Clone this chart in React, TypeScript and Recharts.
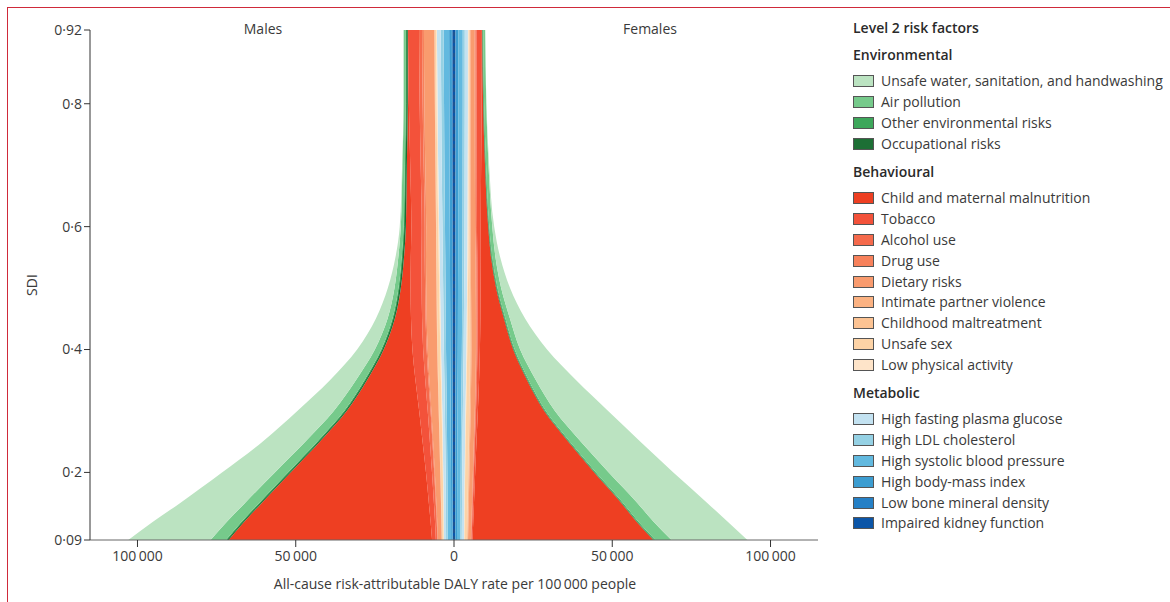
import React from 'react';
import { ComposedChart, Area, XAxis, YAxis, ReferenceLine } from 'recharts';

// SDI levels (y axis)
const SDI = [0.09, 0.12, 0.15, 0.2, 0.25, 0.3, 0.35, 0.4, 0.45, 0.5, 0.55, 0.6, 0.7, 0.8, 0.92];

// Males (DALY rate per 100 000, magnitudes; plotted to the left)
const maleWater = [26000, 23300, 20500, 16700, 13500, 11500, 8200, 5600, 3700, 2100, 900, 350, 100, 50, 20];
const maleAir = [4850, 4650, 4450, 4150, 3770, 3290, 2710, 2030, 1550, 1270, 1090, 910, 780, 700, 700];
const maleOtherEnv = [400, 400, 400, 400, 380, 360, 340, 320, 300, 280, 260, 240, 220, 200, 200];
const maleOccupational = [450, 450, 450, 450, 450, 450, 450, 450, 450, 450, 450, 450, 400, 400, 400];
const maleChild = [64270, 58800, 52860, 42750, 32480, 22900, 15320, 9060, 5120, 3080, 2160, 1720, 1070, 350, 50];
const maleTobacco = [1200, 1400, 1600, 1900, 2300, 2700, 3100, 3400, 3500, 3500, 3400, 3300, 3300, 3400, 3500];
const maleAlcohol = [500, 550, 600, 700, 800, 900, 1000, 1100, 1100, 1100, 1000, 950, 950, 950, 950];
const maleDrug = [150, 160, 180, 200, 230, 260, 300, 330, 350, 380, 400, 450, 500, 550, 600];
const maleDietary = [1200, 1300, 1450, 1700, 2000, 2300, 2700, 3000, 3200, 3200, 3200, 3100, 3200, 3300, 3300];
const maleIpv = [0, 0, 0, 0, 0, 0, 0, 0, 0, 0, 0, 0, 0, 0, 0];
const maleChildhood = [100, 100, 110, 120, 130, 140, 150, 160, 160, 160, 160, 150, 150, 150, 150];
const maleUnsafeSex = [500, 550, 600, 700, 750, 800, 800, 800, 750, 700, 650, 550, 450, 400, 350];
const maleLowPA = [80, 90, 100, 130, 160, 200, 230, 250, 270, 280, 280, 280, 280, 300, 300];
const maleFpg = [700, 720, 740, 760, 790, 820, 860, 900, 940, 980, 1010, 1050, 1120, 1170, 1220];
const maleLdl = [500, 510, 520, 540, 570, 600, 640, 680, 720, 750, 780, 800, 850, 880, 900];
const maleSbp = [1100, 1110, 1120, 1150, 1190, 1230, 1290, 1350, 1390, 1430, 1480, 1530, 1620, 1680, 1740];
const maleBmi = [450, 460, 470, 490, 520, 550, 580, 620, 650, 680, 710, 740, 790, 830, 870];
const maleBone = [100, 100, 100, 100, 100, 100, 110, 110, 110, 120, 120, 120, 130, 140, 150];
const maleKidney = [350, 350, 350, 360, 380, 400, 420, 440, 440, 440, 450, 460, 490, 500, 520];

// Females (plotted to the right)
const femaleWater = [24000, 23400, 22100, 20400, 18800, 16800, 12700, 8500, 4800, 2800, 1500, 600, 200, 50, 10];
const femaleAir = [5100, 4800, 4520, 4040, 3460, 2880, 2300, 1720, 1440, 1160, 1000, 940, 770, 680, 640];
const femaleOtherEnv = [400, 400, 380, 360, 340, 320, 300, 280, 260, 240, 220, 200, 180, 170, 160];
const femaleOccupational = [200, 200, 200, 200, 200, 200, 200, 200, 200, 200, 180, 160, 150, 150, 150];
const femaleChild = [57140, 51520, 46590, 37610, 29000, 20960, 15180, 10510, 7470, 4900, 3240, 2350, 1230, 460, 80];
const femaleTobacco = [300, 330, 360, 420, 500, 600, 700, 800, 900, 1000, 1100, 1200, 1400, 1600, 1750];
const femaleAlcohol = [150, 160, 170, 190, 210, 230, 250, 270, 290, 300, 300, 300, 300, 300, 300];
const femaleDrug = [80, 90, 100, 110, 120, 140, 160, 180, 200, 220, 240, 260, 280, 300, 320];
const femaleDietary = [900, 950, 1000, 1100, 1200, 1300, 1400, 1450, 1500, 1500, 1500, 1450, 1400, 1350, 1300];
const femaleIpv = [250, 260, 270, 280, 290, 300, 300, 300, 280, 260, 240, 220, 200, 180, 160];
const femaleChildhood = [100, 100, 110, 120, 130, 140, 150, 150, 150, 150, 150, 140, 140, 140, 140];
const femaleUnsafeSex = [800, 850, 900, 950, 1000, 1000, 950, 850, 700, 550, 400, 300, 220, 180, 150];
const femaleLowPA = [80, 90, 100, 120, 150, 180, 210, 240, 260, 270, 280, 280, 280, 290, 300];
const femaleFpg = [750, 760, 770, 790, 810, 840, 870, 900, 920, 940, 960, 970, 980, 990, 990];
const femaleLdl = [450, 460, 470, 480, 500, 520, 540, 560, 580, 600, 610, 620, 630, 640, 640];
const femaleSbp = [1050, 1060, 1080, 1110, 1140, 1180, 1230, 1280, 1310, 1340, 1370, 1390, 1400, 1420, 1420];
const femaleBmi = [550, 560, 570, 590, 610, 640, 670, 700, 720, 740, 760, 770, 780, 790, 790];
const femaleBone = [80, 80, 80, 80, 80, 90, 90, 100, 100, 110, 120, 120, 130, 130, 130];
const femaleKidney = [320, 330, 330, 350, 360, 380, 400, 410, 420, 420, 430, 430, 430, 430, 430];

const X_TICKS = [-100000, -50000, 0, 50000, 100000];
const Y_TICKS = [0.09, 0.2, 0.4, 0.6, 0.8, 0.92];

type Factor = { key: string; label: string; color: string; male: number[]; female: number[] };

const ENVIRONMENTAL: Factor[] = [
  { key: 'water', label: 'Unsafe water, sanitation, and handwashing', color: '#bbe3c1', male: maleWater, female: femaleWater },
  { key: 'air', label: 'Air pollution', color: '#76ca8b', male: maleAir, female: femaleAir },
  { key: 'otherEnv', label: 'Other environmental risks', color: '#3da75b', male: maleOtherEnv, female: femaleOtherEnv },
  { key: 'occupational', label: 'Occupational risks', color: '#1d6f35', male: maleOccupational, female: femaleOccupational },
];
const BEHAVIOURAL: Factor[] = [
  { key: 'child', label: 'Child and maternal malnutrition', color: '#ee3f22', male: maleChild, female: femaleChild },
  { key: 'tobacco', label: 'Tobacco', color: '#f3523a', male: maleTobacco, female: femaleTobacco },
  { key: 'alcohol', label: 'Alcohol use', color: '#f56a4c', male: maleAlcohol, female: femaleAlcohol },
  { key: 'drug', label: 'Drug use', color: '#f7815b', male: maleDrug, female: femaleDrug },
  { key: 'dietary', label: 'Dietary risks', color: '#f99b6e', male: maleDietary, female: femaleDietary },
  { key: 'ipv', label: 'Intimate partner violence', color: '#fbb282', male: maleIpv, female: femaleIpv },
  { key: 'childhood', label: 'Childhood maltreatment', color: '#fcc393', male: maleChildhood, female: femaleChildhood },
  { key: 'unsafeSex', label: 'Unsafe sex', color: '#fdd3a6', male: maleUnsafeSex, female: femaleUnsafeSex },
  { key: 'lowPA', label: 'Low physical activity', color: '#fee4c9', male: maleLowPA, female: femaleLowPA },
];
const METABOLIC: Factor[] = [
  { key: 'fpg', label: 'High fasting plasma glucose', color: '#c3e2f1', male: maleFpg, female: femaleFpg },
  { key: 'ldl', label: 'High LDL cholesterol', color: '#95d1e4', male: maleLdl, female: femaleLdl },
  { key: 'sbp', label: 'High systolic blood pressure', color: '#62b9df', male: maleSbp, female: femaleSbp },
  { key: 'bmi', label: 'High body-mass index', color: '#3c9dd1', male: maleBmi, female: femaleBmi },
  { key: 'bone', label: 'Low bone mineral density', color: '#2580c6', male: maleBone, female: femaleBone },
  { key: 'kidney', label: 'Impaired kidney function', color: '#0b55a7', male: maleKidney, female: femaleKidney },
];

const LEGEND_ORDER = [...ENVIRONMENTAL, ...BEHAVIOURAL, ...METABOLIC];
const STACK_ORDER = [...LEGEND_ORDER].reverse();

const data = SDI.map((sdi, i) => {
  const row: Record<string, number> = { sdi };
  LEGEND_ORDER.forEach((f) => {
    row['m_' + f.key] = -f.male[i];
    row['f_' + f.key] = f.female[i];
  });
  return row;
});

const FONT = '"Open Sans", "Noto Sans", sans-serif';
const TXT = '#3a3a3a';

const fmtX = (v: number) => {
  const s = String(Math.abs(v));
  return s.replace(/\B(?=(\d{3})+(?!\d))/g, '\u2009');
};
const fmtY = (v: number) => String(v).replace('.', '·');

const LegendGroup = ({ title, items, top }: { title: string; items: Factor[]; top: number }) => (
  <div style={{ position: 'absolute', left: 853, top }}>
    <div style={{ fontWeight: 600, fontSize: 14, color: '#2a2a2a', height: 26, lineHeight: '20px' }}>{title}</div>
    {items.map((f) => (
      <div key={f.key} style={{ display: 'flex', alignItems: 'center', height: 20.8 }}>
        <div style={{ width: 21, height: 12, background: f.color, border: '1px solid #555', marginRight: 7, boxSizing: 'border-box' }} />
        <span style={{ fontSize: 14, color: TXT, whiteSpace: 'nowrap', lineHeight: '20px' }}>{f.label}</span>
      </div>
    ))}
  </div>
);

export default function App() {
  return (
    <div style={{ position: 'absolute', left: 0, top: 0, width: 1170, height: 602, background: '#fff', fontFamily: FONT, overflow: 'hidden' }}>
      <div style={{ position: 'absolute', left: 7, top: 7, width: 1170, height: 700, borderLeft: '1.5px solid #cf2a3a', borderTop: '1.5px solid #cf2a3a', boxSizing: 'border-box' }} />
      <div style={{ position: 'absolute', left: 0, top: 0 }}>
        <ComposedChart
          width={840}
          height={602}
          layout="vertical"
          data={data}
          margin={{ top: 30, right: 22, bottom: 32, left: 0 }}
        >
          <XAxis
            type="number"
            domain={[-115000, 115000]}
            ticks={X_TICKS}
            tickFormatter={fmtX}
            tick={{ fill: TXT, fontSize: 14, fontFamily: FONT }}
            tickSize={7}
            tickMargin={4}
            axisLine={{ stroke: '#666' }}
            tickLine={{ stroke: '#333' }}
            height={30}
          />
          <YAxis
            type="number"
            dataKey="sdi"
            domain={[0.09, 0.92]}
            ticks={Y_TICKS}
            reversed
            tickFormatter={fmtY}
            tick={{ fill: TXT, fontSize: 14, fontFamily: FONT }}
            tickSize={6}
            axisLine={{ stroke: '#333' }}
            tickLine={{ stroke: '#333' }}
            width={90}
          />
          {STACK_ORDER.map((f) => (
            <Area
              key={'m_' + f.key}
              dataKey={'m_' + f.key}
              stackId="m"
              type="monotone"
              fill={f.color}
              fillOpacity={1}
              stroke={f.key === 'occupational' ? '#1d6f35' : 'none'}
              strokeWidth={f.key === 'occupational' ? 0.8 : 0}
              dot={false}
              activeDot={false}
              isAnimationActive={false}
            />
          ))}
          {STACK_ORDER.map((f) => (
            <Area
              key={'f_' + f.key}
              dataKey={'f_' + f.key}
              stackId="f"
              type="monotone"
              fill={f.color}
              fillOpacity={1}
              stroke="none"
              dot={false}
              activeDot={false}
              isAnimationActive={false}
            />
          ))}
          <ReferenceLine x={0} stroke="#35527a" strokeDasharray="4 3" strokeWidth={1} />
        </ComposedChart>
      </div>
      <div style={{ position: 'absolute', left: 263, top: 19, transform: 'translateX(-50%)', fontSize: 14, color: TXT }}>Males</div>
      <div style={{ position: 'absolute', left: 650, top: 19, transform: 'translateX(-50%)', fontSize: 14, color: TXT }}>Females</div>
      <div style={{ position: 'absolute', left: 455, top: 574, transform: 'translateX(-50%)', fontSize: 14, color: TXT, whiteSpace: 'nowrap' }}>
        All-cause risk-attributable DALY rate per 100{'\u2009'}000 people
      </div>
      <div style={{ position: 'absolute', left: 31, top: 285, transform: 'translate(-50%, -50%) rotate(-90deg)', fontSize: 14, color: TXT }}>SDI</div>
      <div style={{ position: 'absolute', left: 853, top: 18, fontWeight: 600, fontSize: 14, color: '#2a2a2a', lineHeight: '20px' }}>Level 2 risk factors</div>
      <LegendGroup title="Environmental" items={ENVIRONMENTAL} top={45} />
      <LegendGroup title="Behavioural" items={BEHAVIOURAL} top={162} />
      <LegendGroup title="Metabolic" items={METABOLIC} top={383} />
    </div>
  );
}
